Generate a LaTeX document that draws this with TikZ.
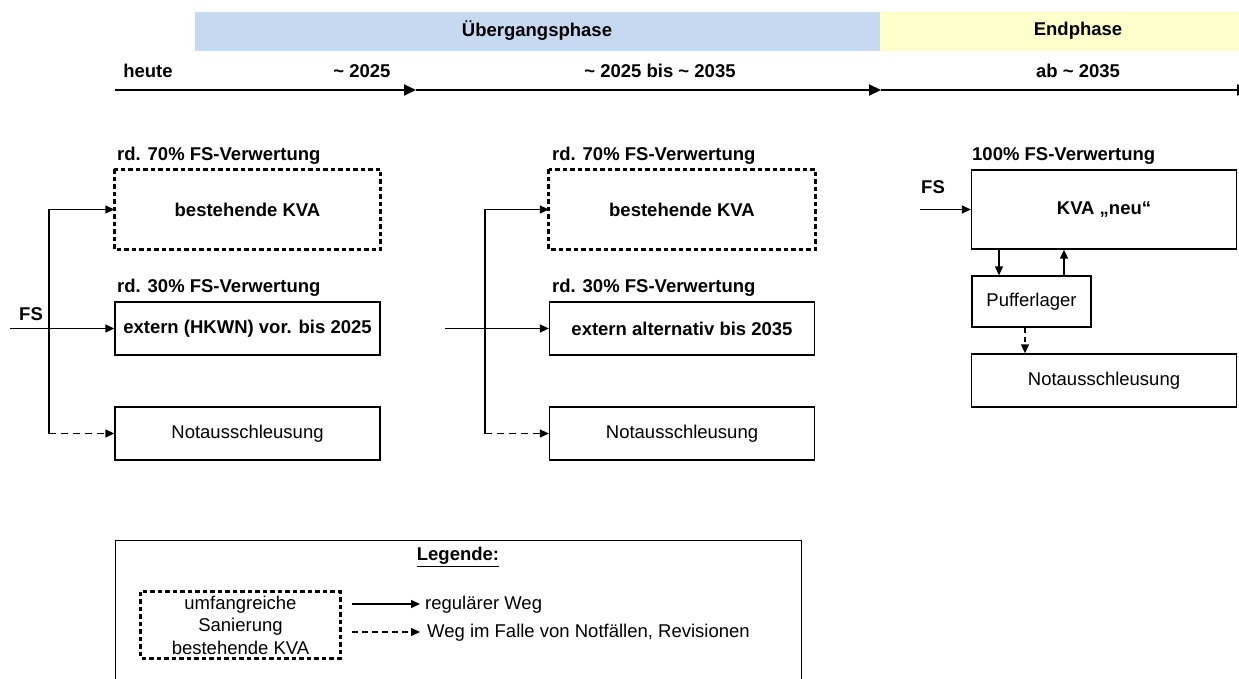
\documentclass[tikz,border=0pt]{standalone}
\usepackage{fontspec}
\setmainfont{Liberation Sans}
\usetikzlibrary{arrows.meta}
\definecolor{phaseblue}{RGB}{198,217,240}
\definecolor{phaseyellow}{RGB}{255,255,204}
\begin{document}
\begin{tikzpicture}[x=1pt,y=-1pt,
  every node/.style={font=\fontsize{18.5}{22.5}\selectfont, inner sep=0pt},
  bf/.style={font=\fontsize{18.5}{22.5}\selectfont\bfseries},
  box/.style={draw, line width=1.3pt, minimum width=265pt, minimum height=53pt, align=center},
  bigbox/.style={box, minimum height=79pt},
  renov/.style={draw, line width=3pt, dash pattern=on 4.5pt off 3pt},
  lbl/.style={bf, anchor=west},
  flow/.style={line width=1.3pt, -{Triangle[length=9pt,width=8pt]}},
  emerg/.style={flow, dash pattern=on 7pt off 5pt},
  tl/.style={line width=2pt, -{Triangle[length=12pt,width=11pt]}}]
\useasboundingbox (0,0) rectangle (1239,679);
\clip (0,0) rectangle (1239,679);

% phase bands
\fill[phaseblue] (195,12) rectangle (880,51);
\fill[phaseyellow] (880,12) rectangle (1239,51);
\node[bf] (ueb) at (537,31) {Übergangsphase};
\node[bf] (endp) at (1078,31) {Endphase};

% timeline
\coordinate (t0) at (115,90);
\coordinate (t1) at (416,90);
\coordinate (t2) at (881,90);
\coordinate (t3) at (1249,90);
\draw[tl] (t0) -- (t1);
\draw[tl] (t1) -- (t2);
\draw[tl] (t2) -- (t3);
\node[bf] (heute) at (148,71) {heute};
\node[bf] (y25) at (362,71) {\char`\~\ 2025};
\node[bf] (y2535) at (660,71) {\char`\~\ 2025 bis \char`\~\ 2035};
\node[bf] (y35) at (1078,71) {ab \char`\~\ 2035};

% column 1: today until 2025
\node[bigbox, draw=none] (kva1) at (247.5,209.5) {\bfseries bestehende KVA};
\draw[renov] (kva1.north west) rectangle (kva1.south east);
\node[box] (ext1) at (247.5,328.5) {\bfseries extern (HKWN) vor. bis 2025};
\node[box] (not1) at (247.5,433.5) {Notausschleusung};
\node[lbl] (l70a) at (117,156) {rd. 70\% FS-Verwertung};
\node[lbl] (l30a) at (117,288) {rd. 30\% FS-Verwertung};
\node[lbl] (fs1) at (19,314) {FS};
\coordinate (in1) at (10,328.5);
\coordinate (b1t) at (49,209.5);
\coordinate (b1b) at (49,433.5);
\draw[flow] (in1) -- (ext1.west);
\draw[line width=1.3pt] (b1t) -- (b1b);
\draw[flow] (b1t) -- (kva1.west);
\draw[emerg] (b1b) -- (not1.west);

% column 2: 2025 until 2035
\node[bigbox, draw=none] (kva2) at (682,209.5) {\bfseries bestehende KVA};
\draw[renov] (kva2.north west) rectangle (kva2.south east);
\node[box] (ext2) at (682,328.5) {\bfseries extern alternativ bis 2035};
\node[box] (not2) at (682,433.5) {Notausschleusung};
\node[lbl] (l70b) at (552,156) {rd. 70\% FS-Verwertung};
\node[lbl] (l30b) at (552,288) {rd. 30\% FS-Verwertung};
\coordinate (in2) at (445,328.5);
\coordinate (b2t) at (485,209.5);
\coordinate (b2b) at (485,433.5);
\draw[flow] (in2) -- (ext2.west);
\draw[line width=1.3pt] (b2t) -- (b2b);
\draw[flow] (b2t) -- (kva2.west);
\draw[emerg] (b2b) -- (not2.west);

% column 3: from 2035
\node[bigbox] (kva3) at (1104,209.5) {\bfseries KVA „neu“};
\node[box, minimum width=119pt, minimum height=51pt] (puf) at (1031.5,301.5) {Pufferlager};
\node[box] (not3) at (1104,380.5) {Notausschleusung};
\node[lbl] (l100) at (972,156) {100\% FS-Verwertung};
\node[lbl] (fs3) at (921,187) {FS};
\coordinate (in3) at (920,209.5);
\draw[flow] (in3) -- (kva3.west);
\draw[flow] (kva3.south west -| 999,0) -- (puf.north west -| 999,0);
\draw[flow] (puf.north west -| 1064,0) -- (kva3.south west -| 1064,0);
\draw[emerg, dash pattern=on 5pt off 4pt] (puf.south west -| 1025,0) -- (not3.north west -| 1025,0);

% legend
\node[draw, line width=1.3pt, minimum width=686pt, minimum height=200pt, anchor=north west] (leg) at (115,540) {};
\node[bf] (legtitle) at (458,557) {\underline{Legende:}};
\node[draw=none, minimum width=199pt, minimum height=66pt, align=center] (legbox) at (240.5,625) {umfangreiche\\Sanierung\\bestehende KVA};
\draw[renov] (legbox.north west) rectangle (legbox.south east);
\coordinate (la1) at (352,604);
\coordinate (la2) at (420,604);
\coordinate (lb1) at (352,632);
\coordinate (lb2) at (420,632);
\draw[flow] (la1) -- (la2);
\draw[emerg, dash pattern=on 6pt off 4pt] (lb1) -- (lb2);
\node[anchor=west] (ltx1) at (425,605) {regulärer Weg};
\node[anchor=west] (ltx2) at (427,633) {Weg im Falle von Notfällen, Revisionen};
\end{tikzpicture}
\end{document}
